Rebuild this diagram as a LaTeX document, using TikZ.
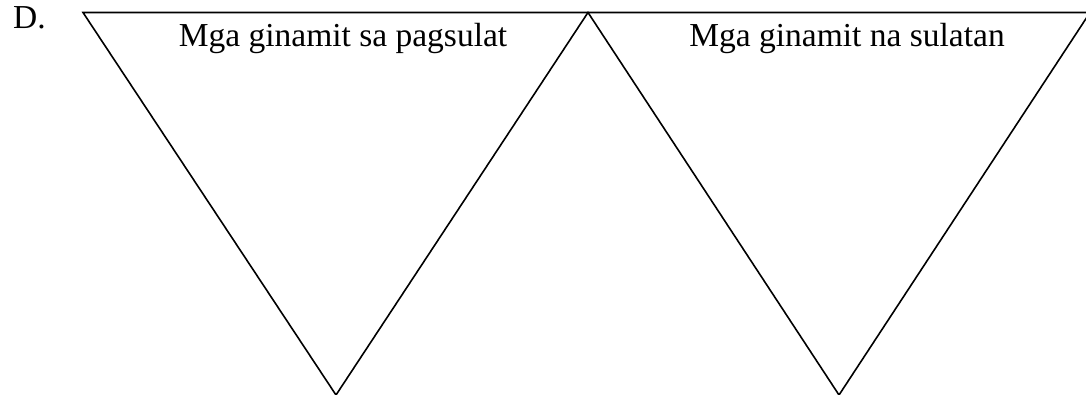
\documentclass[tikz,border=0pt]{standalone}
\usepackage{fontspec}
\setmainfont{Liberation Serif}
\begin{document}
\begin{tikzpicture}[x=1pt,y=-1pt,
  edge/.style={line width=1.6pt,line join=miter},
  lbl/.style={font=\fontsize{33.5}{40}\selectfont,inner sep=0pt,anchor=base}]
\useasboundingbox (0,0) rectangle (1086,395);
\clip (0,0) rectangle (1086,395);
\coordinate (a) at (83,12.5);
\coordinate (b) at (588,12.5);
\coordinate (c) at (336,395);
\coordinate (d) at (1090,12.5);
\coordinate (e) at (839,395);
\draw[edge] (c) -- (a) -- (d);
\draw[edge] (c) -- (b) -- (e) -- (d);
\node[lbl,anchor=base west] (dl) at (13,29) {D.};
\node[lbl] (t1) at (343,47) {Mga ginamit sa pagsulat};
\node[lbl] (t2) at (847,47) {Mga ginamit na sulatan};
\end{tikzpicture}
\end{document}
